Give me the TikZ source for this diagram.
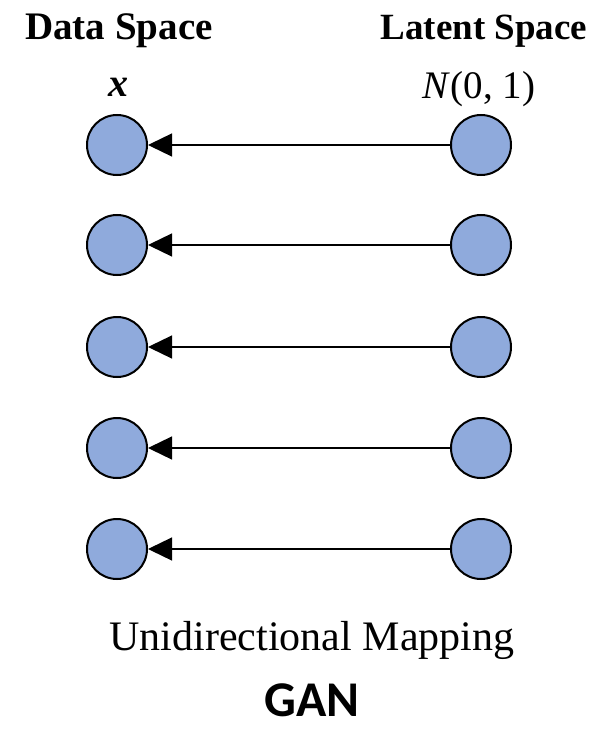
\documentclass[tikz,border=0pt]{standalone}
\usepackage{fontspec}
\setmainfont{Liberation Serif}
\newfontfamily\ganfont{Carlito}
\usetikzlibrary{arrows.meta}
\definecolor{nodeblue}{HTML}{8FAADC}
\begin{document}
\begin{tikzpicture}[x=1pt,y=-1pt,
  unit/.style={circle,draw=black,line width=2pt,fill=nodeblue,minimum size=60pt,inner sep=0pt},
  maparrow/.style={line width=1.3pt,-{Triangle[length=24pt,width=23pt]}},
  lbl/.style={anchor=base,inner sep=0pt}]
\useasboundingbox (0,0) rectangle (600,730);
\node[lbl,font=\fontsize{39}{40}\selectfont\bfseries] (ds) at (119,40) {Data Space};
\node[lbl,font=\fontsize{37}{40}\selectfont\bfseries] (ls) at (484,40) {Latent Space};
\node[lbl,font=\fontsize{40}{44}\selectfont\bfseries\itshape] (xv) at (118,97) {x};
\node[lbl,font=\fontsize{39}{40}\selectfont] (nv) at (479,99) {\textit{N}(0,~1)};
\foreach \i/\y in {1/145,2/245,3/347,4/448,5/549}{
  \node[unit] (l\i) at (117,\y) {};
  \node[unit] (r\i) at (481,\y) {};
  \draw[maparrow] (r\i) -- (l\i);
}
\node[lbl,font=\fontsize{42}{44}\selectfont] (um) at (312,650) {Unidirectional Mapping};
\node[lbl,font=\fontsize{50}{54}\selectfont\ganfont\bfseries] (gan) at (312,716) {GAN};
\end{tikzpicture}
\end{document}
